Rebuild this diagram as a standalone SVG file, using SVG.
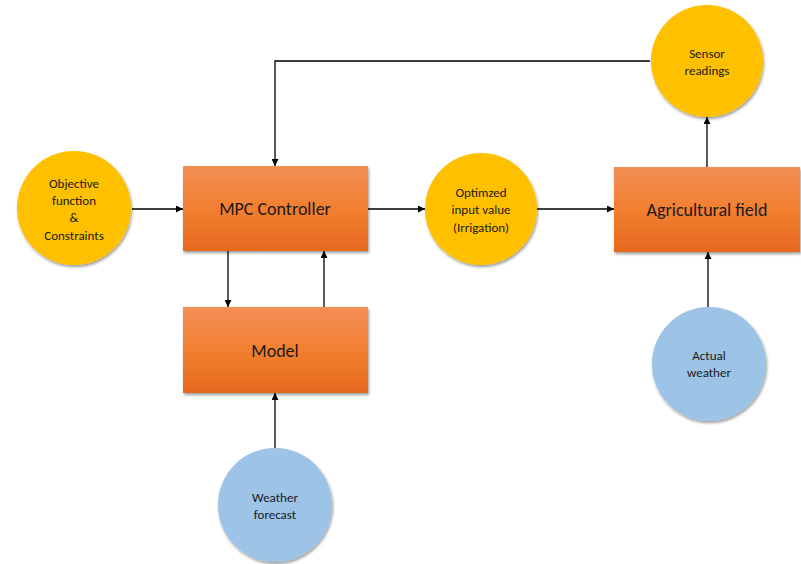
<svg xmlns="http://www.w3.org/2000/svg" width="801" height="564" viewBox="0 0 801 564">
<defs>
<linearGradient id="og" x1="0" y1="0" x2="0" y2="1">
<stop offset="0" stop-color="#F28F55"/>
<stop offset="0.5" stop-color="#F27F30"/>
<stop offset="1" stop-color="#E5691E"/>
</linearGradient>
<filter id="sh" x="-10%" y="-10%" width="125%" height="130%">
<feGaussianBlur in="SourceAlpha" stdDeviation="1.5"/>
<feOffset dx="1" dy="2" result="b"/>
<feComponentTransfer><feFuncA type="linear" slope="0.4"/></feComponentTransfer>
<feMerge><feMergeNode/><feMergeNode in="SourceGraphic"/></feMerge>
</filter>
<marker id="ah" viewBox="0 0 10 10" refX="10" refY="5" markerWidth="7" markerHeight="7" markerUnits="userSpaceOnUse" orient="auto">
<path d="M0,0 L10,5 L0,10 z" fill="#000"/>
</marker>
</defs>
<style>
.box{fill:url(#og);filter:url(#sh)}
.yc{fill:#FFC000;filter:url(#sh)}
.bc{fill:#9DC3E6;filter:url(#sh)}
.t{font-family:Calibri,Carlito,"Liberation Sans",Arial,sans-serif;fill:#1a1a1a;text-anchor:middle}
.big{font-size:18px}
.sm{font-size:13px}
.ln{stroke:#000;stroke-width:1.3;fill:none}
.ar{marker-end:url(#ah)}
</style>
<rect width="801" height="564" fill="#fff"/>
<g id="connectors">
<line class="ln ar" x1="132" y1="209" x2="183" y2="209"/>
<line class="ln ar" x1="368" y1="209" x2="425" y2="209"/>
<line class="ln ar" x1="537" y1="209" x2="614" y2="209"/>
<polyline class="ln ar" points="650,61 275,61 275,166"/>
<line class="ln ar" x1="707" y1="167" x2="707" y2="117"/>
<line class="ln ar" x1="228" y1="251" x2="228" y2="307"/>
<line class="ln ar" x1="324" y1="307" x2="324" y2="251"/>
<line class="ln ar" x1="275" y1="449" x2="275" y2="393"/>
<line class="ln ar" x1="708" y1="307" x2="708" y2="252"/>
</g>
<g id="objective">
<circle class="yc" cx="74" cy="208" r="57"/>
<text class="t sm" x="74" y="188">Objective</text>
<text class="t sm" x="74" y="205">function</text>
<text class="t sm" x="74" y="222">&amp;</text>
<text class="t sm" x="74" y="240">Constraints</text>
</g>
<g id="mpc">
<rect class="box" x="183" y="166" width="185" height="85"/>
<text class="t big" x="275" y="215">MPC Controller</text>
</g>
<g id="optimized">
<circle class="yc" cx="481" cy="209" r="56"/>
<text class="t sm" x="481" y="197">Optimzed</text>
<text class="t sm" x="481" y="214">input value</text>
<text class="t sm" x="481" y="232">(Irrigation)</text>
</g>
<g id="field">
<rect class="box" x="614" y="167" width="186" height="85"/>
<text class="t big" x="707" y="216">Agricultural field</text>
</g>
<g id="sensor">
<circle class="yc" cx="707" cy="61" r="56"/>
<text class="t sm" x="707" y="58">Sensor</text>
<text class="t sm" x="707" y="75">readings</text>
</g>
<g id="model">
<rect class="box" x="183" y="307" width="185" height="86"/>
<text class="t big" x="275" y="357">Model</text>
</g>
<g id="forecast">
<circle class="bc" cx="275" cy="505" r="57"/>
<text class="t sm" x="275" y="502">Weather</text>
<text class="t sm" x="275" y="519">forecast</text>
</g>
<g id="actual">
<circle class="bc" cx="709" cy="364" r="57"/>
<text class="t sm" x="709" y="360">Actual</text>
<text class="t sm" x="709" y="377">weather</text>
</g>
</svg>
